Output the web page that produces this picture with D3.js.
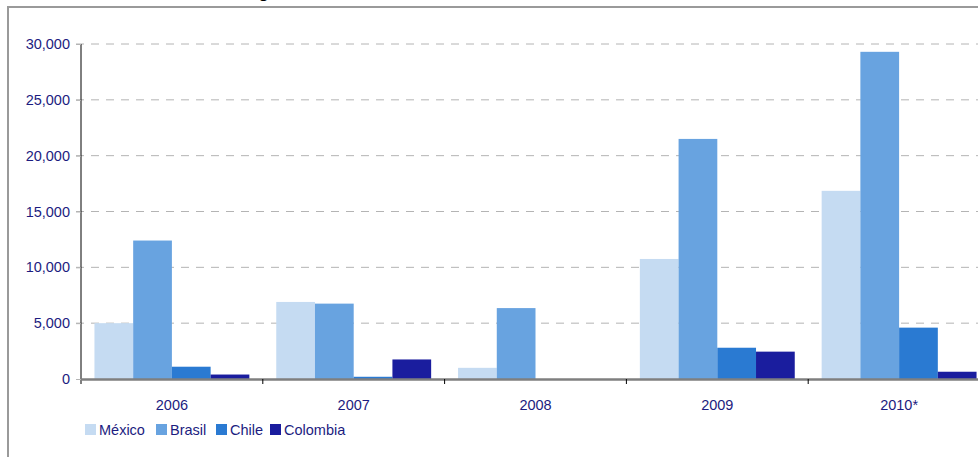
<!DOCTYPE html>
<html lang="es">
<head>
    <meta charset="UTF-8">
    <title>Colocación de bonos globales en USD</title>
    <script src="https://d3js.org/d3.v7.min.js"></script>
    <style>
        body {
            margin: 0;
            padding: 0;
            background: #fff;
            font-family: Arial, "Liberation Sans", sans-serif;
        }
        svg {
            display: block;
        }
        .tick text {
            fill: #1c1c80;
            font-size: 14.5px;
            font-family: Arial, "Liberation Sans", sans-serif;
        }
    </style>
</head>
<body>
    <div id="chart"></div>

    <script>
        // datos
        const years = ["2006", "2007", "2008", "2009", "2010*"];
        const series = ["México", "Brasil", "Chile", "Colombia"];
        const mexico = [5000, 6900, 1000, 10750, 16850];
        const brasil = [12400, 6750, 6350, 21500, 29300];
        const chile = [1100, 200, 0, 2800, 4600];
        const colombia = [400, 1750, 0, 2450, 650];
        const yTicks = [0, 5000, 10000, 15000, 20000, 25000, 30000];

        const colors = ["#c5dbf2", "#68a3e0", "#2a7ad2", "#1a1d9e"];
        const values = [mexico, brasil, chile, colombia];

        const width = 978;
        const height = 457;

        const svg = d3.select("#chart")
            .append("svg")
            .attr("width", width)
            .attr("height", height);

        // título cortado arriba
        svg.append("text")
            .attr("x", 12)
            .attr("y", -2)
            .attr("font-size", 17)
            .attr("font-weight", "bold")
            .attr("fill", "#000")
            .text("Gráfico: Colocación de bonos globales en USD - América Latina");

        // marco gris
        svg.append("line")
            .attr("x1", 7).attr("x2", width)
            .attr("y1", 7).attr("y2", 7)
            .attr("stroke", "#9a9a9a").attr("stroke-width", 2);
        svg.append("line")
            .attr("x1", 8).attr("x2", 8)
            .attr("y1", 7).attr("y2", height)
            .attr("stroke", "#9a9a9a").attr("stroke-width", 2);

        const x = d3.scaleBand()
            .domain(years)
            .range([81, 990])
            .paddingInner(0.148)
            .paddingOuter(0.074);

        const xs = d3.scaleBand()
            .domain(series)
            .range([0, x.bandwidth()]);

        const y = d3.scaleLinear()
            .domain([0, 30000])
            .range([379, 44]);

        // líneas de cuadrícula
        svg.append("g")
            .selectAll("line")
            .data(yTicks.filter(d => d > 0))
            .enter().append("line")
            .attr("x1", 76).attr("x2", width)
            .attr("y1", d => y(d)).attr("y2", d => y(d))
            .attr("stroke", "#b4b4b4")
            .attr("stroke-dasharray", "8,7");

        // barras
        const groups = svg.append("g")
            .selectAll("g")
            .data(years)
            .enter().append("g")
            .attr("transform", d => `translate(${x(d)},0)`);

        groups.selectAll("rect")
            .data((d, i) => series.map((s, j) => ({ s: s, v: values[j][i], c: colors[j] })))
            .enter().append("rect")
            .attr("x", d => xs(d.s))
            .attr("y", d => y(d.v))
            .attr("width", xs.bandwidth())
            .attr("height", d => y(0) - y(d.v))
            .attr("fill", d => d.c);

        // eje Y
        const yAxis = svg.append("g")
            .attr("transform", "translate(81,0)")
            .call(d3.axisLeft(y)
                .tickValues(yTicks)
                .tickSize(5)
                .tickPadding(6)
                .tickFormat(d3.format(",")));
        yAxis.select(".domain").attr("stroke", "#000").attr("d", "M0,44V384");
        yAxis.selectAll(".tick line").attr("stroke", "#b4b4b4");

        // eje X
        const xAxis = svg.append("g")
            .attr("transform", "translate(0,379)")
            .call(d3.axisBottom(x).tickSize(0).tickPadding(21));
        xAxis.select(".domain").remove();
        svg.append("line")
            .attr("x1", 81).attr("x2", width)
            .attr("y1", 379.5).attr("y2", 379.5)
            .attr("stroke", "#7f7f7f").attr("stroke-width", 2.5);
        svg.append("g")
            .selectAll("line")
            .data(years.slice(1))
            .enter().append("line")
            .attr("x1", d => x(d) - x.step() * x.paddingInner() / 2)
            .attr("x2", d => x(d) - x.step() * x.paddingInner() / 2)
            .attr("y1", 379).attr("y2", 384)
            .attr("stroke", "#000");

        // leyenda
        const legendX = [85, 156, 216, 270];
        const legend = svg.append("g")
            .selectAll("g")
            .data(series)
            .enter().append("g")
            .attr("transform", (d, i) => `translate(${legendX[i]},424)`);
        legend.append("rect")
            .attr("width", 11).attr("height", 11)
            .attr("fill", (d, i) => colors[i]);
        legend.append("text")
            .attr("x", 14).attr("y", 11)
            .attr("font-size", 14.5)
            .attr("fill", "#1c1c80")
            .text(d => d);
    </script>
</body>
</html>
